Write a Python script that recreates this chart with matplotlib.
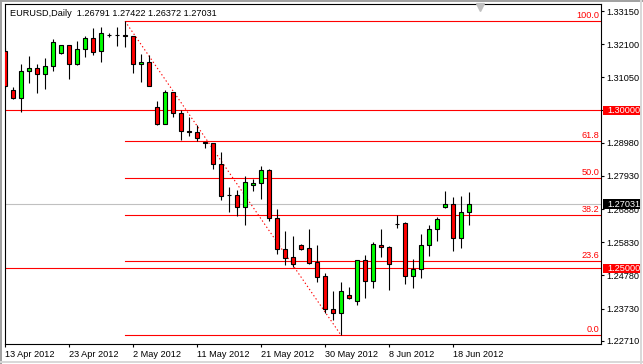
import matplotlib
matplotlib.use('Agg')
import matplotlib.pyplot as plt
import matplotlib.transforms as mtrans
from matplotlib.patches import Rectangle
from matplotlib.lines import Line2D
import numpy as np

# EURUSD daily bars (MT4 style, sunday bars included)
opens = [1.31884, 1.30649, 1.30405, 1.31251, 1.31336, 1.31156, 1.31409, 1.31811, 1.32064, 1.31472,
         1.31938, 1.32286, 1.31893, 1.32395, 1.32395, 1.32380, 1.32359, 1.31463, 1.31526, 1.30101,
         1.29582, 1.30586, 1.29911, 1.29335, 1.29310, 1.28995, 1.28971, 1.28306, 1.27330, 1.27315,
         1.26954, 1.27632, 1.27695, 1.28107, 1.26587, 1.25606, 1.25352, 1.25732, 1.25637, 1.25194,
         1.24751, 1.23706, 1.23598, 1.24149, 1.23953, 1.25257, 1.24593, 1.25732, 1.25669, 1.26420,
         1.26429, 1.24751, 1.24991, 1.25732, 1.26239, 1.26954, 1.27030, 1.25954, 1.26791]
highs = [1.31988, 1.30735, 1.31472, 1.31725, 1.31472, 1.31662, 1.32264, 1.32070, 1.32070, 1.32210,
         1.32359, 1.32602, 1.32653, 1.32444, 1.32653, 1.32824, 1.32370, 1.31789, 1.31757, 1.30301,
         1.30640, 1.30590, 1.30016, 1.29794, 1.29531, 1.29000, 1.28980, 1.28686, 1.27578, 1.27483,
         1.27926, 1.27822, 1.28243, 1.28148, 1.26872, 1.26185, 1.26027, 1.25773, 1.26248, 1.25742,
         1.24846, 1.24285, 1.24561, 1.24422, 1.25270, 1.25416, 1.25827, 1.26239, 1.25710, 1.26692,
         1.26460, 1.25289, 1.26081, 1.26365, 1.26638, 1.27451, 1.27261, 1.27293, 1.27422]
lows = [1.30712, 1.30374, 1.29943, 1.30880, 1.30545, 1.30671, 1.31260, 1.31800, 1.31007, 1.31441,
        1.31703, 1.31757, 1.31545, 1.32337, 1.32052, 1.32020, 1.31197, 1.30912, 1.30780, 1.29531,
        1.29575, 1.29804, 1.29066, 1.29202, 1.29044, 1.28803, 1.28138, 1.27166, 1.26796, 1.26660,
        1.26384, 1.27461, 1.27208, 1.26492, 1.25447, 1.25118, 1.25055, 1.25583, 1.25150, 1.24580,
        1.23598, 1.23358, 1.22883, 1.24032, 1.23826, 1.24073, 1.24390, 1.25371, 1.24327, 1.26289,
        1.24498, 1.24390, 1.24706, 1.25403, 1.25878, 1.26913, 1.25561, 1.25647, 1.26372]
closes = [1.30776, 1.30405, 1.31251, 1.31336, 1.31156, 1.31399, 1.32159, 1.32064, 1.31472, 1.31938,
          1.32286, 1.31862, 1.32444, 1.32385, 1.32385, 1.32370, 1.31463, 1.31526, 1.30785, 1.29582,
          1.30586, 1.29911, 1.29341, 1.29325, 1.29139, 1.28980, 1.28297, 1.27303, 1.27320, 1.26954,
          1.27727, 1.27695, 1.28107, 1.26587, 1.25606, 1.25340, 1.25131, 1.25625, 1.25181, 1.24738,
          1.23706, 1.23598, 1.24276, 1.24073, 1.25257, 1.24593, 1.25764, 1.25669, 1.25131, 1.26408,
          1.24751, 1.24991, 1.25732, 1.26239, 1.26555, 1.27030, 1.25954, 1.26777, 1.27031]

date_ticks = [0, 8, 16, 24, 32, 40, 48, 56]
date_labels = ['13 Apr 2012', '23 Apr 2012', '2 May 2012', '11 May 2012',
               '21 May 2012', '30 May 2012', '8 Jun 2012', '18 Jun 2012']
price_ticks = [1.33150, 1.32100, 1.31050, 1.30000, 1.28980, 1.27930, 1.26880,
               1.25830, 1.24780, 1.23730, 1.22710]

# fibonacci retracement between the swing high and low
fib_hi, fib_hi_bar = 1.32824, 15
fib_lo, fib_lo_bar = 1.22883, 42
fib_levels = [0.0, 23.6, 38.2, 50.0, 61.8, 100.0]

hlines_red = [1.30000, 1.25000]
bid = 1.27031

W, H = 643, 364
FONT = 'Liberation Sans'
FS = 6.6

fig = plt.figure(figsize=(W / 100, H / 100), dpi=100)
ax = fig.add_axes([5 / W, (H - 344) / H, 596 / W, 340 / H])

n = len(opens)
x = np.arange(n)
o = np.array(opens); c = np.array(closes)
up = c > o
body_lo = np.minimum(o, c)
body_h = np.maximum(np.abs(c - o), 0.00008)

# horizontal lines first
ax.axhline(bid, color='#c0c0c0', lw=0.8, zorder=1)
for p in hlines_red:
    ax.axhline(p, color='#ff0000', lw=0.8, zorder=1)

x_right = 74.5
for lv in fib_levels:
    p = fib_lo + (fib_hi - fib_lo) * lv / 100.0
    ax.plot([fib_hi_bar, x_right + 1], [p, p], color='#ff0000', lw=0.8, zorder=1)
    ax.annotate('%.1f' % lv, xy=(1.0, p), xycoords=('axes fraction', 'data'),
                xytext=(-1.5, 1.5), textcoords='offset pixels', ha='right', va='bottom',
                color='#ff0000', fontsize=FS, family=FONT)

ax.plot([fib_hi_bar, fib_lo_bar], [fib_hi, fib_lo], color='#ff0000', lw=0.8,
        linestyle=(0, (1.2, 2.2)), zorder=2)

# candles
ax.vlines(x, lows, highs, color='black', lw=0.8, zorder=3)
colors = np.where(up, '#00ff00', '#ff0000')
ax.bar(x, body_h, 0.52, bottom=body_lo, color=colors, edgecolor='black', lw=0.8, zorder=4)

ax.set_xlim(-0.02, x_right)
ax.set_ylim(1.22606, 1.33372)

ax.yaxis.tick_right()
ax.set_yticks(price_ticks)
ax.set_yticklabels(['%.5f' % p for p in price_ticks], family=FONT, fontsize=FS)
ax.set_xticks(date_ticks)
ax.set_xticklabels(date_labels, family=FONT, fontsize=FS, ha='left')
ax.tick_params(axis='y', length=2.2, width=0.8, pad=2, colors='black')
ax.tick_params(axis='x', length=2.5, width=0.8, pad=1.5, colors='black')
for s in ax.spines.values():
    s.set_linewidth(0.8)
    s.set_color('black')

# price boxes on the right scale
blend = mtrans.blended_transform_factory(ax.transAxes, ax.transData)
px = 0.00031665
bx0 = (603 - 5) / 596
bw = (641 - 603) / 596
for p, fc in [(1.30000, '#ff0000'), (1.25000, '#ff0000'), (bid, 'black')]:
    ax.add_patch(Rectangle((bx0, p - 4.8 * px), bw, 9.6 * px, transform=blend,
                           facecolor=fc, edgecolor='none', clip_on=False, zorder=6))
    ax.text((607 - 5) / 596, p, '%.5f' % p, transform=blend, color='white', ha='left',
            va='center', fontsize=FS, family=FONT, clip_on=False, zorder=7)

# header text
ax.text(5 / 596, 1 - 9.5 / 340, 'EURUSD,Daily  %.5f %.5f %.5f %.5f' % (opens[-1], highs[-1], lows[-1], closes[-1]),
        transform=ax.transAxes, ha='left', va='center', fontsize=FS, family=FONT, zorder=7)

# chart shift marker
ax.plot([(480 - 5) / 596], [1 - 2.5 / 340], marker='v', markersize=5.5, color='#c0c0c0',
        transform=ax.transAxes, clip_on=False, zorder=7)

# window frame
fig.add_artist(Line2D([0, 1], [1 - 1 / H, 1 - 1 / H], transform=fig.transFigure, color='#a0a0a0', lw=1.4))
fig.add_artist(Line2D([1 / W, 1 / W], [0, 1], transform=fig.transFigure, color='#a0a0a0', lw=1.4))
fig.add_artist(Line2D([0, 1], [2 / H, 2 / H], transform=fig.transFigure, color='#d8d8d8', lw=1.4))
fig.add_artist(Line2D([1 - 2 / W, 1 - 2 / W], [0, 1], transform=fig.transFigure, color='#d8d8d8', lw=1.4))

fig.savefig('out.png', dpi=100, facecolor='white')
